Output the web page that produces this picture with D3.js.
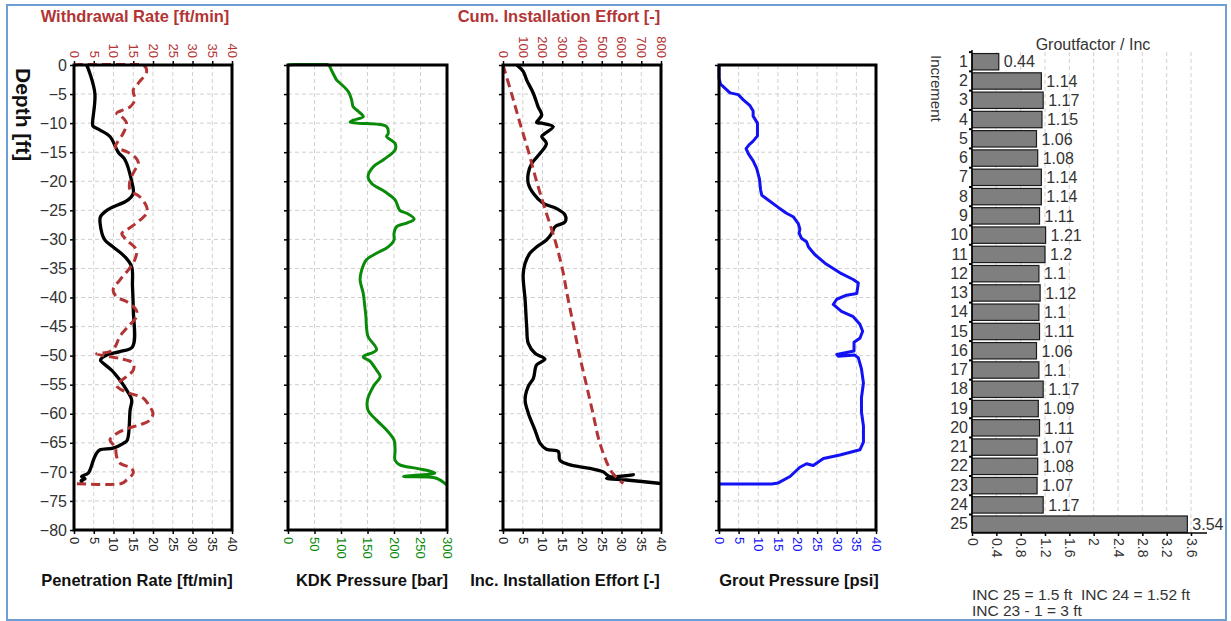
<!DOCTYPE html>
<html>
<head>
<meta charset="utf-8">
<script src="https://cdn.jsdelivr.net/npm/d3@7"></script>
<style>
  body { margin: 0; background: #fff; }
  svg { font-family: "Liberation Sans", Arial, sans-serif; display: block; }
  .grid line { stroke: #d0d0d0; stroke-dasharray: 4,3; stroke-width: 1; }
</style>
</head>
<body>
<div id="chart"></div>
<script>
// ---- data ----
// Penetration rate (black, bottom axis, ft/min)
const penDepth = [0,-1.4,-5,-10,-10.5,-11.2,-12.3,-15,-16.3,-20,-22.1,-23.2,-25,-26.1,-27.2,-30.1,-31.3,-33,-34.7,-38,-42,-48.5,-49.3,-49.9,-50.8,-51.3,-52.5,-54.2,-55.9,-57.6,-59.4,-64.5,-65.1,-65.9,-66.2,-66.8,-68,-70.2,-70.8,-71.2,-71.5,-71.9];
const penRate  = [3.2,4,5.3,4.7,4.8,6.6,9.1,11.2,12.9,14.6,15,13.7,8.3,6.7,6.6,7.8,9.9,12.9,14.6,14.8,15,14.8,11.6,8.3,6.7,7.4,9.5,11.6,13.3,14.6,14.2,13.5,12.5,9.9,6.6,5.7,4.9,3.6,1.9,2.8,1.8,2.2];

// Withdrawal rate (red dashed, top axis, ft/min)
const wdDepth = [0,0,-1.1,-3.1,-4.3,-6,-7.2,-7.7,-8.3,-8.9,-10,-11.7,-13.5,-14.1,-14.9,-15.8,-16.9,-18.1,-19.8,-21.5,-22.7,-24.4,-25.5,-26.7,-28.4,-29,-30.1,-31.8,-33.5,-35.3,-37,-38.7,-39.9,-40.7,-42.2,-43.3,-45,-46.7,-48.5,-49.3,-49.7,-50.5,-51.3,-52.5,-53.6,-55.1,-56.2,-57.3,-58.8,-59.9,-61.1,-61.9,-62.5,-63.4,-64.5,-65.7,-67.4,-68.5,-69.4,-70.2,-71.4,-72,-72];
const wdRate  = [0,17.5,18.4,16.3,15,15.4,14.2,12.5,10.8,12.1,13.3,12.5,10.8,10.4,13.3,15.4,16.3,15.4,14.2,14.2,16.7,18.4,18.4,16.7,13.3,12.1,13.3,15.8,15.4,13.7,11.6,9.9,10.8,13.3,15.8,15.8,13.7,11.6,10.4,9.1,5.7,11.6,15,15,13.3,10.8,12.9,17.5,19.2,20,19.2,16.7,13.7,10.8,9.1,10.4,10.8,11.6,14.6,15,13.3,12,0];

// KDK pressure (green, bar)
const kdkDepth = [0,0,-0.9,-2.6,-3.1,-4.6,-6,-7.2,-8,-8.9,-9.5,-9.8,-10,-10.6,-11.8,-12.3,-13.5,-14.6,-16.3,-17.5,-19.2,-20.4,-21.8,-23.2,-25,-25.5,-26.5,-27.2,-27.8,-29,-30.1,-31.3,-32.4,-33.5,-35.3,-37,-39.3,-41.6,-43.3,-45,-46.7,-49,-50.2,-51,-52.5,-53.6,-55.3,-57.6,-59.4,-61.1,-62.8,-64.5,-66.2,-68,-68.8,-69.4,-70.2,-70.8,-71.1,-72.3];
const kdkVal   = [0,76,82,92,98,114,120,123,133,142,123,117,130,186,189,186,202,202,180,161,151,158,183,202,211,224,238,224,205,200,200,189,167,148,139,136,142,145,147,148,151,167,142,155,167,174,161,150,151,167,186,200,202,202,211,243,277,218,280,300];

// Inc. installation effort (black, bottom axis)
const incDepth = [0,-1.1,-2.6,-4.9,-7.2,-8.6,-9.9,-10,-10.6,-11.8,-12.3,-13.5,-15.2,-16.9,-18.6,-20.4,-22.1,-23.8,-24.7,-25.8,-27,-27.8,-29,-30.1,-31.3,-32.4,-34.1,-36.1,-40.4,-45,-47.9,-49.6,-50.6,-51.6,-53.9,-55.3,-57.6,-59.9,-62.8,-65.1,-66.1,-66.5,-68,-68.8,-69.4,-70,-70.8,-70.5,-71.1,-71.4,-72];
const incVal   = [3.5,5.1,6,7.7,8.9,9.8,8.5,9.8,12.7,10.6,9.8,11,9.4,7.3,6.4,6.4,7.7,10.2,13.6,15.7,15.7,13.2,12.3,11,8.5,6.8,5.6,5.1,5.6,6,6.4,8.1,10.6,8.5,7.7,6.4,5.6,6.4,8.1,9.4,11,14,14.4,17,22,25.4,27,33,26.2,31.3,40];

// Cum. installation effort (red dashed, top axis)
const cumDepth = [0,-5,-10,-15,-20,-25,-30,-35,-40,-45,-50,-55,-60,-65,-70,-72];
const cumVal   = [0,44,86,130,170,215,262,300,328,358,388,422,456,490,550,609];

// Grout pressure (blue, psi)
const groutDepth = [0,-2.3,-3.3,-4.8,-5.1,-6,-7,-7.9,-8.8,-10,-12.2,-13.1,-13.7,-14.4,-15.3,-16.5,-17.8,-19.6,-21.5,-22.4,-23,-24.5,-25.5,-26.1,-27.3,-28.2,-28.9,-29.8,-30.4,-31.3,-32.6,-34.1,-35,-35.9,-36.9,-37.5,-39.3,-39.6,-40.3,-41.2,-42.4,-43.3,-44.6,-45.8,-47,-47.7,-49.2,-49.8,-50.1,-49.9,-50.4,-52.3,-54.7,-57.2,-59.7,-62.1,-64.9,-66.2,-66.5,-67.1,-67.7,-68.3,-68.9,-68.6,-69.2,-70.8,-71.9,-72.1,-72.1];
const groutVal   = [0,0,0.4,2.8,4.9,6.2,7.9,8.7,8.7,9.8,9.8,8.7,7.7,6.9,7.5,8.7,9.6,10.3,10.6,10.9,12.1,15.1,17.2,18.9,20.2,20.6,20.4,21,22.3,22.8,24.4,27,29.1,31.2,34.2,35.5,35.1,32.5,30,29.1,31.2,34.2,35.9,36.6,35.9,34.4,34.4,30,30.4,34.6,35.5,36.3,36.8,36.3,36.3,36.8,36.8,35.9,34.2,30.8,26.6,25.3,24,22.3,20.6,18.1,15.1,13.4,0];

// Groutfactor per increment
const increments  = d3.range(1, 26).map(String);
const groutFactor = [0.44,1.14,1.17,1.15,1.06,1.08,1.14,1.14,1.11,1.21,1.2,1.1,1.12,1.1,1.11,1.06,1.1,1.17,1.09,1.11,1.07,1.08,1.07,1.17,3.54];
const gfTicks = [0,0.4,0.8,1.2,1.6,2,2.4,2.8,3.2,3.6];

const depthTicks = d3.range(0, -81, -5);
const notes = ['INC 25 = 1.5 ft  INC 24 = 1.52 ft', 'INC 23 - 1 = 3 ft'];

// ---- layout ----
const W = 1231, H = 621;
const RED = '#b23434', GREEN = '#098a09', BLUE = '#1212f5';

const svg = d3.select('#chart').append('svg')
  .attr('width', W).attr('height', H);

svg.append('clipPath').attr('id', 'frame')
  .append('rect').attr('x', 8).attr('y', 6).attr('width', 1217).attr('height', 613);

const root = svg.append('g').attr('clip-path', 'url(#frame)');

const yScale = d3.scaleLinear().domain([0, -80]).range([65, 530]);

function zip(xs, ys) { return xs.map((v, i) => [v, ys[i]]); }

function drawPanel(p) {
  const g = root.append('g');
  const xb = d3.scaleLinear().domain(p.domain).range([p.x0, p.x1]);
  const bTicks = d3.range(p.domain[0], p.domain[1] + 0.001, p.step);

  // grid
  const grid = g.append('g').attr('class', 'grid');
  grid.selectAll('.v').data(bTicks.slice(1, -1)).enter().append('line')
    .attr('x1', d => xb(d)).attr('x2', d => xb(d))
    .attr('y1', yScale(0)).attr('y2', yScale(-80));
  grid.selectAll('.h').data(depthTicks.slice(1, -1)).enter().append('line')
    .attr('x1', p.x0).attr('x2', p.x1)
    .attr('y1', d => yScale(d)).attr('y2', d => yScale(d));

  // left axis
  const yAxis = d3.axisLeft(yScale).tickValues(depthTicks).tickSize(4).tickPadding(3)
    .tickFormat(p.yLabels ? d3.format('d') : '');
  const ya = g.append('g').attr('transform', `translate(${p.x0},0)`).call(yAxis);
  ya.select('.domain').remove();
  ya.selectAll('text').attr('font-size', 16).attr('fill', '#333');
  ya.selectAll('line').attr('stroke', '#000').attr('stroke-width', 1.5);

  // bottom axis
  const bAxis = d3.axisBottom(xb).tickValues(bTicks).tickSize(4);
  const ba = g.append('g').attr('transform', `translate(0,${yScale(-80)})`).call(bAxis);
  ba.select('.domain').remove();
  ba.selectAll('line').attr('stroke', '#000').attr('stroke-width', 1.5);
  ba.selectAll('text')
    .attr('transform', 'rotate(90)').attr('x', 7).attr('y', 0).attr('dy', '0.35em')
    .style('text-anchor', 'start').attr('font-size', 13).attr('fill', p.bColor);

  // top axis
  if (p.topDomain) {
    const xt = d3.scaleLinear().domain(p.topDomain).range([p.x0, p.x1]);
    const tTicks = d3.range(p.topDomain[0], p.topDomain[1] + 0.001, p.topStep);
    const ta = g.append('g').attr('transform', `translate(0,${yScale(0)})`)
      .call(d3.axisTop(xt).tickValues(tTicks).tickSize(4));
    ta.select('.domain').remove();
    ta.selectAll('line').attr('stroke', '#000').attr('stroke-width', 1.5);
    ta.selectAll('text')
      .attr('transform', 'rotate(90)').attr('x', -7).attr('y', 0).attr('dy', '0.35em')
      .style('text-anchor', 'end').attr('font-size', 13).attr('fill', RED);
    p.topX = xt;
  }

  // series
  const clipId = 'clip' + p.x0;
  g.append('clipPath').attr('id', clipId).append('rect')
    .attr('x', p.x0 - 2).attr('y', yScale(0) - 2)
    .attr('width', p.x1 - p.x0 + 2).attr('height', yScale(-80) - yScale(0) + 4);
  const sg = g.append('g').attr('clip-path', `url(#${clipId})`);
  p.series.forEach(s => {
    const xs = s.top ? p.topX : xb;
    const line = d3.line().x(d => xs(d[0])).y(d => yScale(d[1]))
      .curve(s.curve || d3.curveCatmullRom.alpha(0.5));
    sg.append('path').datum(zip(s.vals, s.depths))
      .attr('d', line).attr('fill', 'none')
      .attr('stroke', s.color).attr('stroke-width', s.width || 3)
      .attr('stroke-linejoin', 'round')
      .attr('stroke-dasharray', s.dash || null);
  });

  // frame
  g.append('rect').attr('x', p.x0).attr('y', yScale(0))
    .attr('width', p.x1 - p.x0).attr('height', yScale(-80) - yScale(0))
    .attr('fill', 'none').attr('stroke', '#000').attr('stroke-width', 3);

  // labels
  g.append('text').attr('x', p.labelX).attr('y', 586).attr('text-anchor', 'middle')
    .attr('font-weight', 'bold').attr('font-size', 16.5).attr('fill', '#111').text(p.label);
  if (p.title) {
    g.append('text').attr('x', p.titleX).attr('y', 22).attr('text-anchor', 'middle')
      .attr('font-weight', 'bold').attr('font-size', 16.5).attr('fill', RED).text(p.title);
  }
}

drawPanel({
  x0: 74, x1: 232, domain: [0, 40], step: 5, bColor: '#222', yLabels: true,
  topDomain: [0, 40], topStep: 5,
  label: 'Penetration Rate [ft/min]', labelX: 137,
  title: 'Withdrawal Rate [ft/min]', titleX: 135,
  series: [
    { depths: penDepth, vals: penRate, color: '#000', width: 3.3 },
    { depths: wdDepth, vals: wdRate, color: RED, dash: '9,5', top: true }
  ]
});
drawPanel({
  x0: 288, x1: 447, domain: [0, 300], step: 50, bColor: GREEN,
  label: 'KDK Pressure [bar]', labelX: 372,
  series: [{ depths: kdkDepth, vals: kdkVal, color: GREEN }]
});
drawPanel({
  x0: 503, x1: 661, domain: [0, 40], step: 5, bColor: '#222',
  topDomain: [0, 800], topStep: 100,
  label: 'Inc. Installation Effort [-]', labelX: 565,
  title: 'Cum. Installation Effort [-]', titleX: 559,
  series: [
    { depths: incDepth, vals: incVal, color: '#000', width: 3.3 },
    { depths: cumDepth, vals: cumVal, color: RED, dash: '9,5', top: true }
  ]
});
drawPanel({
  x0: 719, x1: 876, domain: [0, 40], step: 5, bColor: BLUE,
  label: 'Grout Pressure [psi]', labelX: 799,
  series: [{ depths: groutDepth, vals: groutVal, color: BLUE, curve: d3.curveLinear }]
});

// Depth label
root.append('text').attr('transform', 'translate(16,68) rotate(90)')
  .attr('font-weight', 'bold').attr('font-size', 21).attr('fill', '#111').text('Depth [ft]');

// ---- Groutfactor bar chart ----
const bx = d3.scaleLinear().domain([0, 3.863]).range([972, 1207]);
const by = d3.scaleBand().domain(increments).range([52.1, 533.8])
  .paddingInner(0.15).paddingOuter(0.075);
const bg = root.append('g');
const axisY = 533;

bg.append('g').attr('class', 'grid').selectAll('line').data(gfTicks.slice(1)).enter()
  .append('line').attr('x1', d => bx(d)).attr('x2', d => bx(d))
  .attr('y1', 52).attr('y2', axisY);

bg.selectAll('rect.bar').data(groutFactor).enter().append('rect')
  .attr('class', 'bar')
  .attr('x', bx(0)).attr('y', (d, i) => by(increments[i]))
  .attr('width', d => bx(d) - bx(0)).attr('height', by.bandwidth())
  .attr('fill', '#7f7f7f').attr('stroke', '#1a1a1a').attr('stroke-width', 1.2);

bg.selectAll('text.val').data(groutFactor).enter().append('text')
  .attr('class', 'val')
  .attr('x', d => bx(d) + 5).attr('y', (d, i) => by(increments[i]) + by.bandwidth() / 2)
  .attr('dy', '0.36em').attr('font-size', 16).attr('fill', '#333')
  .text(d => d);

// y axis of bar chart
const yAx = bg.append('g').attr('transform', `translate(${bx(0)},0)`)
  .call(d3.axisLeft(by).tickSize(0).tickPadding(4));
yAx.select('.domain').remove();
yAx.selectAll('text').attr('font-size', 16).attr('fill', '#333');
bg.selectAll('line.ytk').data(increments).enter().append('line')
  .attr('class', 'ytk')
  .attr('x1', bx(0) - 3).attr('x2', bx(0))
  .attr('y1', d => by(d) - by.step() * 0.075).attr('y2', d => by(d) - by.step() * 0.075)
  .attr('stroke', '#000').attr('stroke-width', 2);
bg.append('line').attr('x1', bx(0)).attr('x2', bx(0)).attr('y1', 50).attr('y2', axisY)
  .attr('stroke', '#000').attr('stroke-width', 1.5);

// x axis of bar chart
const xAx = bg.append('g').attr('transform', `translate(0,${axisY})`)
  .call(d3.axisBottom(bx).tickValues(gfTicks).tickSize(3).tickFormat(d3.format('')));
xAx.select('.domain').remove();
xAx.selectAll('line').attr('stroke', '#000').attr('stroke-width', 1.5);
xAx.selectAll('text')
  .attr('transform', 'rotate(90)').attr('x', 5).attr('y', 0).attr('dy', '0.35em')
  .style('text-anchor', 'start').attr('font-size', 14).attr('fill', '#333');
bg.append('line').attr('x1', bx(0)).attr('x2', 1207).attr('y1', axisY).attr('y2', axisY)
  .attr('stroke', '#000').attr('stroke-width', 1.5);

bg.append('text').attr('x', 1093).attr('y', 50).attr('text-anchor', 'middle')
  .attr('font-size', 16).attr('fill', '#333').text('Groutfactor / Inc');
bg.append('text').attr('transform', 'translate(931,55) rotate(90)')
  .attr('font-size', 15).attr('fill', '#333').text('Increment');

bg.selectAll('text.note').data(notes).enter().append('text')
  .attr('class', 'note')
  .attr('x', 972).attr('y', (d, i) => 600 + i * 16)
  .attr('font-size', 15.5).attr('fill', '#333')
  .style('white-space', 'pre').text(d => d);

// outer border
svg.append('rect').attr('x', 7).attr('y', 5).attr('width', 1219).attr('height', 615)
  .attr('fill', 'none').attr('stroke', '#6d9fd6').attr('stroke-width', 2);
</script>
</body>
</html>
